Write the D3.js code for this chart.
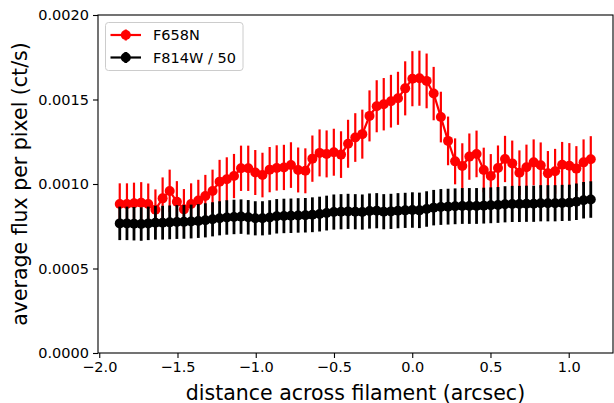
<!DOCTYPE html>
<html>
<head>
<meta charset="utf-8">
<script src="https://cdn.jsdelivr.net/npm/d3@7"></script>
<style>
  body { margin: 0; background: #fff; }
  svg { display: block; font-family: "DejaVu Sans", sans-serif; }
</style>
</head>
<body>
<svg id="chart" width="614" height="403"></svg>
<script>
// distance across the filament (arcsec), one entry per sample
const distance = [
  -1.869, -1.823, -1.778, -1.732, -1.687, -1.641, -1.595, -1.550, -1.504, -1.459,
  -1.413, -1.367, -1.322, -1.276, -1.231, -1.185, -1.139, -1.094, -1.048, -1.003,
  -0.957, -0.911, -0.866, -0.820, -0.775, -0.729, -0.683, -0.638, -0.592, -0.547,
  -0.501, -0.455, -0.410, -0.364, -0.319, -0.273, -0.227, -0.182, -0.136, -0.091,
  -0.045, 0.001, 0.046, 0.092, 0.137, 0.183, 0.229, 0.274, 0.320, 0.365,
  0.411, 0.457, 0.502, 0.548, 0.593, 0.639, 0.685, 0.730, 0.776, 0.821,
  0.867, 0.913, 0.958, 1.004, 1.049, 1.095, 1.141
];

// F658N average flux per pixel (ct/s) and its error
const f658n = [
  0.000882, 0.000882, 0.000886, 0.000889, 0.000882, 0.000848, 0.000915, 0.000959, 0.000895, 0.000850,
  0.000882, 0.000902, 0.000929, 0.000959, 0.001014, 0.001028, 0.001047, 0.001093, 0.001093, 0.001068,
  0.001053, 0.001085, 0.001095, 0.001098, 0.001112, 0.001083, 0.001078, 0.001150, 0.001184, 0.001178,
  0.001188, 0.001174, 0.001238, 0.001275, 0.001295, 0.001403, 0.001460, 0.001472, 0.001490, 0.001507,
  0.001566, 0.001623, 0.001626, 0.001610, 0.001535, 0.001396, 0.001255, 0.001134, 0.001107, 0.001162,
  0.001178, 0.001083, 0.001047, 0.001095, 0.001148, 0.001122, 0.001067, 0.001099, 0.001128, 0.001111,
  0.001063, 0.001075, 0.001114, 0.001108, 0.001091, 0.001128, 0.001146
];
const f658nErr = [
  0.000122, 0.000122, 0.000122, 0.000122, 0.000121, 0.000120, 0.000124, 0.000126, 0.000122, 0.000120,
  0.000122, 0.000123, 0.000125, 0.000126, 0.000129, 0.000130, 0.000131, 0.000134, 0.000134, 0.000133,
  0.000132, 0.000134, 0.000134, 0.000134, 0.000135, 0.000133, 0.000133, 0.000137, 0.000139, 0.000139,
  0.000139, 0.000138, 0.000142, 0.000144, 0.000145, 0.000151, 0.000154, 0.000155, 0.000156, 0.000157,
  0.000160, 0.000163, 0.000163, 0.000162, 0.000158, 0.000150, 0.000144, 0.000136, 0.000134, 0.000137,
  0.000138, 0.000132, 0.000130, 0.000133, 0.000137, 0.000135, 0.000132, 0.000134, 0.000136, 0.000135,
  0.000132, 0.000133, 0.000135, 0.000134, 0.000133, 0.000136, 0.000137
];

// F814W average flux per pixel divided by 50, and its error
const f814w = [
  0.000767, 0.000767, 0.000765, 0.000763, 0.000767, 0.000771, 0.000771, 0.000773, 0.000775, 0.000776,
  0.000778, 0.000781, 0.000785, 0.000791, 0.000797, 0.000802, 0.000805, 0.000807, 0.000803, 0.000797,
  0.000797, 0.000802, 0.000809, 0.000811, 0.000812, 0.000814, 0.000815, 0.000818, 0.000822, 0.000828,
  0.000834, 0.000836, 0.000838, 0.000836, 0.000834, 0.000840, 0.000842, 0.000836, 0.000838, 0.000842,
  0.000844, 0.000846, 0.000844, 0.000852, 0.000860, 0.000864, 0.000866, 0.000868, 0.000870, 0.000870,
  0.000870, 0.000872, 0.000874, 0.000876, 0.000880, 0.000882, 0.000882, 0.000883, 0.000883, 0.000886,
  0.000886, 0.000886, 0.000888, 0.000889, 0.000895, 0.000904, 0.000908
];
const f814wErr = [
  0.000099, 0.000099, 0.000099, 0.000099, 0.000099, 0.000100, 0.000100, 0.000100, 0.000100, 0.000100,
  0.000100, 0.000100, 0.000101, 0.000101, 0.000101, 0.000102, 0.000102, 0.000102, 0.000102, 0.000101,
  0.000101, 0.000102, 0.000102, 0.000102, 0.000102, 0.000102, 0.000102, 0.000103, 0.000103, 0.000103,
  0.000104, 0.000104, 0.000104, 0.000104, 0.000104, 0.000104, 0.000104, 0.000104, 0.000104, 0.000104,
  0.000104, 0.000105, 0.000105, 0.000105, 0.000105, 0.000106, 0.000106, 0.000106, 0.000106, 0.000106,
  0.000106, 0.000106, 0.000106, 0.000106, 0.000107, 0.000107, 0.000107, 0.000107, 0.000107, 0.000107,
  0.000107, 0.000107, 0.000107, 0.000107, 0.000108, 0.000108, 0.000108
];

const seriesNames = ["F658N", "F814W / 50"];
const seriesColors = ["#ff0000", "#000000"];

const xTicks = [-2.0, -1.5, -1.0, -0.5, 0.0, 0.5, 1.0];
const xTickLabels = ["\u22122.0", "\u22121.5", "\u22121.0", "\u22120.5", "0.0", "0.5", "1.0"];
const yTicks = [0, 0.0005, 0.0010, 0.0015, 0.0020];
const yTickLabels = ["0.0000", "0.0005", "0.0010", "0.0015", "0.0020"];

const xLabel = "distance across filament (arcsec)";
const yLabel = "average flux per pixel (ct/s)";

// layout
const svg = d3.select("#chart");
const margin = {top: 15, right: 1, bottom: 50, left: 98};
const width = +svg.attr("width") - margin.left - margin.right;
const height = +svg.attr("height") - margin.top - margin.bottom;

const x = d3.scaleLinear().domain([-2.008, 1.283]).range([0, width]);
const y = d3.scaleLinear().domain([0, 0.002]).range([height, 0]);

const g = svg.append("g").attr("transform", `translate(${margin.left},${margin.top})`);

// build point lists for each series
const series = [
  {name: seriesNames[0], color: seriesColors[0], barWidth: 2.2,
   points: distance.map((d, i) => ({x: d, v: f658n[i], e: f658nErr[i]}))},
  {name: seriesNames[1], color: seriesColors[1], barWidth: 2.8,
   points: distance.map((d, i) => ({x: d, v: f814w[i], e: f814wErr[i]}))}
];

const line = d3.line().x(d => x(d.x)).y(d => y(d.v));

series.forEach(s => {
  let sg = g.append("g");
  // error bars
  sg.selectAll("line.err")
    .data(s.points)
    .enter().append("line")
    .attr("class", "err")
    .attr("x1", d => x(d.x)).attr("x2", d => x(d.x))
    .attr("y1", d => y(d.v - d.e)).attr("y2", d => y(d.v + d.e))
    .attr("stroke", s.color)
    .attr("stroke-width", s.barWidth);
  // connecting line
  sg.append("path")
    .datum(s.points)
    .attr("d", line)
    .attr("fill", "none")
    .attr("stroke", s.color)
    .attr("stroke-width", 2.2);
  // markers
  sg.selectAll("circle")
    .data(s.points)
    .enter().append("circle")
    .attr("cx", d => x(d.x))
    .attr("cy", d => y(d.v))
    .attr("r", 5)
    .attr("fill", s.color);
});

// axes
const xAxis = g.append("g")
  .attr("transform", `translate(0,${height})`)
  .call(d3.axisBottom(x).tickValues(xTicks).tickFormat((d, i) => xTickLabels[i])
    .tickSizeInner(5).tickSizeOuter(0).tickPadding(4));
const yAxis = g.append("g")
  .call(d3.axisLeft(y).tickValues(yTicks).tickFormat((d, i) => yTickLabels[i])
    .tickSizeInner(5).tickSizeOuter(0).tickPadding(4));

[xAxis, yAxis].forEach(a => {
  a.select(".domain").remove();
  a.selectAll(".tick line").attr("stroke", "#000").attr("stroke-width", 1.1);
  a.selectAll(".tick text")
    .attr("fill", "#000")
    .style("font-family", "DejaVu Sans")
    .style("font-size", "14.5px");
});

// frame
g.append("rect")
  .attr("x", 0).attr("y", 0)
  .attr("width", width).attr("height", height)
  .attr("fill", "none")
  .attr("stroke", "#000")
  .attr("stroke-width", 1.1);

// axis labels
svg.append("text")
  .attr("x", margin.left + width / 2)
  .attr("y", 399.5)
  .attr("text-anchor", "middle")
  .style("font-size", "20.5px")
  .text(xLabel);

svg.append("text")
  .attr("transform", `translate(27,${margin.top + height / 2}) rotate(-90)`)
  .attr("text-anchor", "middle")
  .style("font-size", "20.5px")
  .text(yLabel);

// legend
const legend = g.append("g").attr("transform", "translate(7.5,7.5)");
legend.append("rect")
  .attr("width", 137.5).attr("height", 48)
  .attr("rx", 3)
  .attr("fill", "#fff").attr("fill-opacity", 0.8)
  .attr("stroke", "#cccccc").attr("stroke-width", 1);

series.forEach((s, i) => {
  let row = legend.append("g").attr("transform", `translate(0,${12.5 + i * 22.5})`);
  row.append("line")
    .attr("x1", 5).attr("x2", 35.5)
    .attr("stroke", s.color).attr("stroke-width", 2.2);
  row.append("line")
    .attr("x1", 20.3).attr("x2", 20.3).attr("y1", -5.5).attr("y2", 5.5)
    .attr("stroke", s.color).attr("stroke-width", s.barWidth);
  row.append("circle")
    .attr("cx", 20.3).attr("r", 5).attr("fill", s.color);
  row.append("text")
    .attr("x", 47.5).attr("y", 5.3)
    .style("font-size", "14.5px")
    .text(s.name);
});
</script>
</body>
</html>
